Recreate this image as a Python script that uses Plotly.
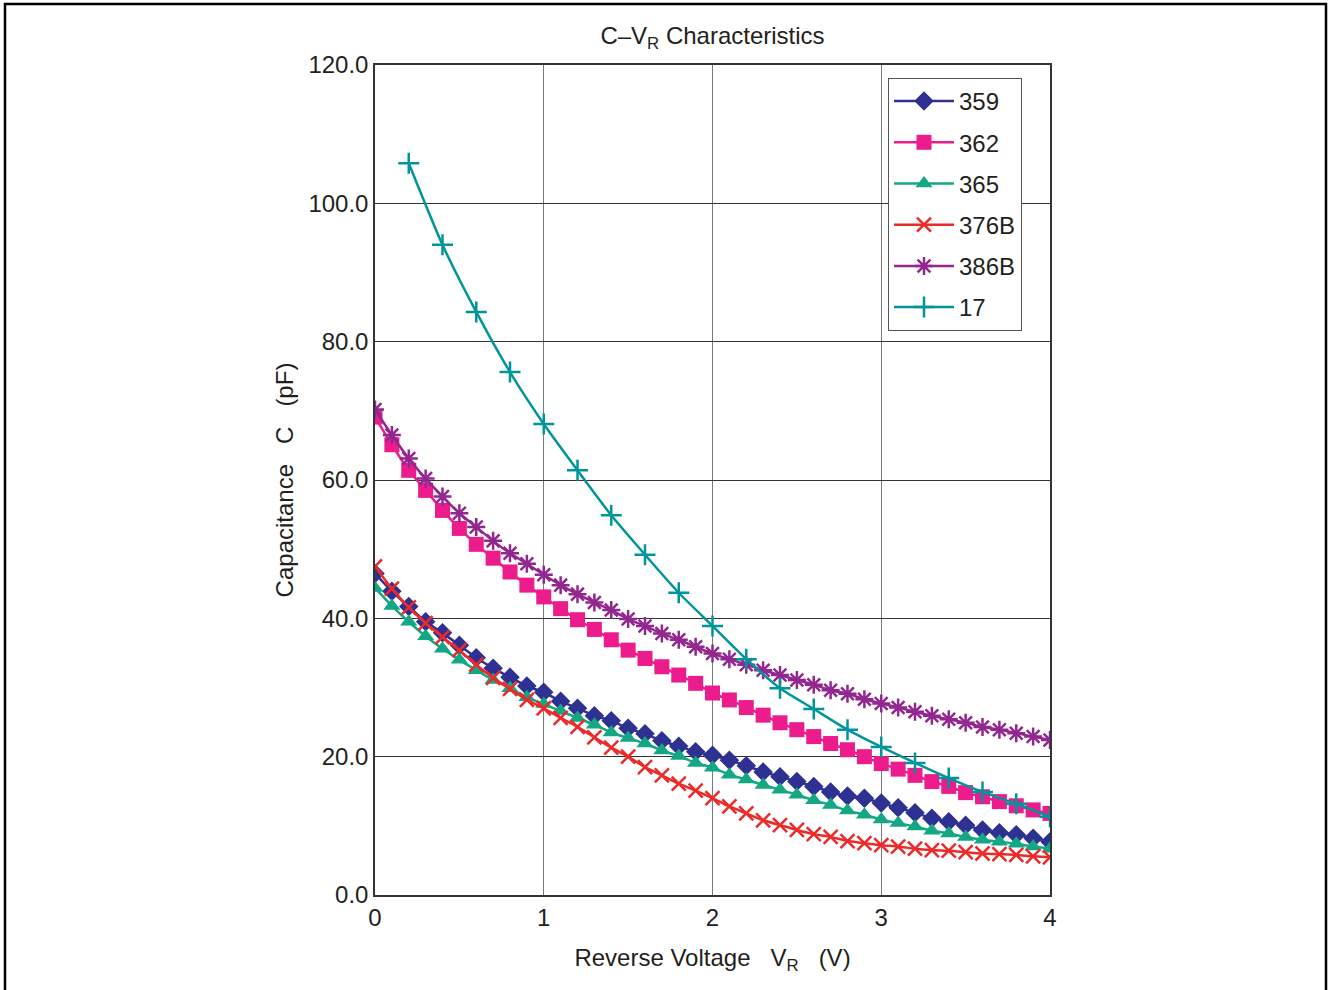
import plotly.graph_objects as go

v01 = [round(i * 0.1, 1) for i in range(41)]
v02 = [round(0.2 + i * 0.2, 1) for i in range(20)]

c359 = [46.5, 43.9, 41.7, 39.5, 37.9, 36.1, 34.3, 32.8, 31.5, 30.2, 29.3, 28.0, 27.0, 25.9, 25.2,
        24.1, 23.3, 22.3, 21.5, 20.7, 20.2, 19.5, 18.7, 17.8, 17.1, 16.4, 15.7, 14.9, 14.3, 14.0,
        13.3, 12.6, 11.9, 11.1, 10.6, 10.1, 9.4, 9.0, 8.7, 8.2, 7.7]
c362 = [69.1, 65.1, 61.4, 58.5, 55.6, 53.0, 50.7, 48.7, 46.7, 44.8, 43.1, 41.4, 39.8, 38.4, 36.9,
        35.4, 34.2, 33.0, 31.8, 30.6, 29.2, 28.2, 27.1, 26.0, 24.9, 23.9, 22.9, 21.9, 21.0, 20.0,
        19.0, 18.2, 17.3, 16.4, 15.7, 14.8, 14.2, 13.5, 12.9, 12.3, 11.8]
c365 = [44.4, 41.8, 39.5, 37.4, 35.6, 34.0, 32.5, 31.1, 29.9, 28.6, 27.6, 26.6, 25.6, 24.6, 23.5,
        22.7, 21.9, 20.9, 20.1, 19.1, 18.4, 17.4, 16.7, 15.9, 15.2, 14.5, 13.7, 13.0, 12.2, 11.6,
        10.9, 10.4, 9.9, 9.3, 8.9, 8.4, 8.0, 7.7, 7.4, 7.0, 6.7]
c376b = [47.5, 44.3, 41.6, 39.3, 37.3, 35.4, 33.3, 31.4, 29.8, 28.2, 27.0, 25.6, 24.3, 22.8, 21.3,
         20.0, 18.5, 17.3, 16.1, 15.1, 14.0, 12.8, 11.8, 10.8, 10.1, 9.4, 8.8, 8.4, 7.8, 7.5,
         7.2, 7.0, 6.7, 6.5, 6.4, 6.2, 6.0, 5.9, 5.8, 5.6, 5.45]
c386b = [70.2, 66.5, 63.1, 60.2, 57.6, 55.2, 53.2, 51.2, 49.4, 47.9, 46.3, 44.8, 43.5, 42.3, 41.2,
         39.9, 38.9, 37.8, 36.9, 35.9, 34.9, 34.1, 33.3, 32.5, 31.8, 31.1, 30.4, 29.6, 29.1, 28.3,
         27.7, 27.1, 26.5, 25.9, 25.4, 24.9, 24.3, 23.9, 23.4, 22.9, 22.4]
c17 = [105.8, 94.0, 84.3, 75.6, 68.1, 61.4, 54.9, 49.2, 43.7, 38.9, 34.1, 29.9, 26.9, 23.9, 21.4,
       19.1, 16.9, 14.9, 13.2, 11.3]

series = [
    ("359", v01, c359, "#2E3192", "diamond", 15),
    ("362", v01, c362, "#EC1C8C", "square", 15),
    ("365", v01, c365, "#13A883", "triangle-up", 15),
    ("376B", v01, c376b, "#ED2A2A", "x-thin", 14),
    ("386B", v01, c386b, "#92278F", "asterisk", 15),
    ("17", v02, c17, "#00959B", "cross-thin", 15),
]

fig = go.Figure()
for name, xs, ys, col, sym, sz in series:
    thin = sym in ("x-thin", "cross-thin", "asterisk")
    fig.add_trace(go.Scatter(
        x=xs, y=ys, name=name, legendgroup=name,
        mode="lines+markers",
        line=dict(color=col, width=2.5, shape="spline", smoothing=0.6),
        marker=dict(symbol=sym + ("-open" if sym == "asterisk" else ""), size=sz, color=col,
                    line=dict(color=col, width=2.5 if thin else 0)),
    ))

font = "Liberation Sans, Arial, sans-serif"
fig.update_layout(
    width=1328, height=990,
    margin=dict(l=375, r=278, t=65, b=95),
    paper_bgcolor="white", plot_bgcolor="white",
    font=dict(family=font, size=24, color="#231F20"),
    title=dict(text="C–V<sub>R</sub> Characteristics", x=(712.5) / 1328, xanchor="center",
               y=1 - 36 / 990, yanchor="middle", font=dict(size=24)),
    showlegend=True,
    legend=dict(x=(888 - 375) / 675, xanchor="left", y=(895 - 78) / 830, yanchor="top",
                bordercolor="#555555", borderwidth=1, bgcolor="white",
                font=dict(size=24), traceorder="grouped", tracegroupgap=7,
                itemwidth=60, entrywidth=135, entrywidthmode="pixels"),
    xaxis=dict(range=[0, 4], dtick=1, tick0=0, showgrid=True, gridcolor="#7a7a7a", gridwidth=1,
               showline=True, linecolor="#333333", linewidth=1.5, mirror=True,
               ticks="", zeroline=False, tickfont=dict(size=24),
               title=dict(text="Reverse Voltage   V<sub>R</sub>   (V)", standoff=20,
                          font=dict(size=24))),
    yaxis=dict(range=[0, 120], dtick=20, tick0=0, tickformat=".1f", showgrid=True,
               gridcolor="#333333", gridwidth=1,
               showline=True, linecolor="#333333", linewidth=1.5, mirror=True,
               ticks="", zeroline=False, tickfont=dict(size=24),
               title=dict(text="Capacitance   C   (pF)", standoff=8, font=dict(size=24))),
)

# outer frame
fx0 = (5 - 375) / 675
fx1 = (1326 - 375) / 675
fy1 = (895 - 4) / 830
fy0 = (895 - 1010) / 830
fig.add_shape(type="rect", xref="paper", yref="paper", x0=fx0, x1=fx1, y0=fy0, y1=fy1,
              line=dict(color="black", width=2.5), fillcolor="rgba(0,0,0,0)", layer="below")

fig.write_html("out.html")
